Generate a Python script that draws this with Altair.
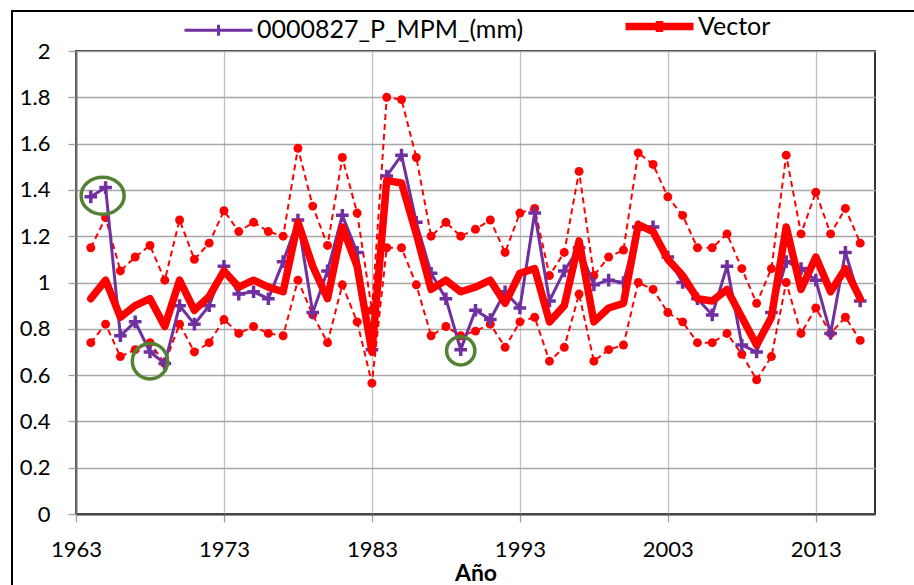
import altair as alt
import pandas as pd

# ---------------- data ----------------
years = list(range(1964, 2017))

p_mpm = [1.37, 1.41, 0.77, 0.83, 0.70, 0.65, 0.90, 0.82, 0.90, 1.07,
         0.95, 0.96, 0.93, 1.09, 1.27, 0.87, 1.05, 1.29, 1.13, 0.71,
         1.46, 1.55, 1.26, 1.04, 0.93, 0.71, 0.88, 0.84, 0.96, 0.89,
         1.30, 0.92, 1.05, 1.15, 0.99, 1.01, 1.00, 1.24, 1.24, 1.11,
         1.00, 0.93, 0.86, 1.07, 0.73, 0.70, 0.87, 1.09, 1.06, 1.01,
         0.78, 1.13, 0.92]

vector = [0.93, 1.01, 0.85, 0.90, 0.93, 0.81, 1.01, 0.88, 0.94, 1.05,
          0.98, 1.01, 0.98, 0.96, 1.26, 1.07, 0.93, 1.24, 1.07, 0.70,
          1.44, 1.43, 1.21, 0.97, 1.01, 0.96, 0.98, 1.01, 0.91, 1.04,
          1.06, 0.83, 0.90, 1.18, 0.83, 0.89, 0.91, 1.25, 1.22, 1.10,
          1.03, 0.93, 0.92, 0.97, 0.85, 0.73, 0.85, 1.24, 0.97, 1.11,
          0.96, 1.06, 0.93]

upper = [1.15, 1.28, 1.05, 1.11, 1.16, 1.01, 1.27, 1.10, 1.17, 1.31,
         1.22, 1.26, 1.22, 1.20, 1.58, 1.33, 1.16, 1.54, 1.30, 0.88,
         1.80, 1.79, 1.54, 1.20, 1.26, 1.20, 1.23, 1.27, 1.13, 1.30,
         1.32, 1.03, 1.13, 1.48, 1.03, 1.11, 1.14, 1.56, 1.51, 1.37,
         1.29, 1.15, 1.15, 1.21, 1.06, 0.91, 1.06, 1.55, 1.21, 1.39,
         1.21, 1.32, 1.17]

lower = [0.74, 0.82, 0.68, 0.71, 0.74, 0.65, 0.82, 0.70, 0.74, 0.84,
         0.78, 0.81, 0.78, 0.77, 1.01, 0.86, 0.74, 0.99, 0.83, 0.565,
         1.15, 1.15, 0.99, 0.77, 0.81, 0.77, 0.79, 0.82, 0.72, 0.83,
         0.85, 0.66, 0.72, 0.95, 0.66, 0.71, 0.73, 1.00, 0.97, 0.87,
         0.83, 0.74, 0.74, 0.78, 0.69, 0.58, 0.68, 1.00, 0.78, 0.89,
         0.78, 0.85, 0.75]

series_names = ["0000827_P_MPM_(mm)", "Vector"]
series_colors = ["#7030A0", "#FF0000"]

x_ticks = [1963, 1973, 1983, 1993, 2003, 2013]
y_ticks = [0, 0.2, 0.4, 0.6, 0.8, 1.0, 1.2, 1.4, 1.6, 1.8, 2.0]

# highlighted points (green rings)
ring_years = [1964.8, 1968.0, 1989.0]
ring_values = [1.375, 0.66, 0.705]

# ---------------- tables ----------------
n = len(years)
main = pd.DataFrame({
    "year": years * 2,
    "value": p_mpm + vector,
    "series": [series_names[0]] * n + [series_names[1]] * n,
})
purple = main[main["series"] == series_names[0]]
red = main[main["series"] == series_names[1]]
bounds = pd.DataFrame({
    "year": years * 2,
    "value": upper + lower,
    "bound": ["upper"] * n + ["lower"] * n,
})
rings = pd.DataFrame({"year": ring_years, "value": ring_values})

FONT = "Lato"

x_enc = alt.X("year:Q",
              scale=alt.Scale(domain=[1963, 2017], nice=False, zero=False),
              axis=alt.Axis(values=x_ticks, format="d", title="Año",
                            grid=True, gridColor="#c0c0c0", gridWidth=1.3,
                            domainColor="#444444", domainWidth=2,
                            tickColor="#a0a0a0", tickSize=8, tickWidth=1.3,
                            labelPadding=17, labelFontSize=22, labelColor="black",
                            labelFont=FONT, titleFont=FONT, titleFontSize=23,
                            titleFontWeight="bold", titleColor="black",
                            titlePadding=2, labelFlush=False))
y_enc = alt.Y("value:Q",
              scale=alt.Scale(domain=[0, 2], nice=False, zero=True),
              axis=alt.Axis(values=y_ticks, format=".1~f", title=None,
                            grid=True, gridColor="#a6a6a6", gridWidth=1.5,
                            domainColor="#6e6e6e", domainWidth=2,
                            tickColor="#a0a0a0", tickSize=8, tickWidth=1.3,
                            labelPadding=18, labelFontSize=22, labelColor="black",
                            labelFont=FONT))

color_enc = alt.Color(
    "series:N",
    scale=alt.Scale(domain=series_names, range=series_colors),
    legend=alt.Legend(
        title=None, orient="none", legendX=130, legendY=-37,
        direction="horizontal", columnPadding=86,
        symbolType="M-1,0H1M0,-0.16V0.16", symbolSize=4624,
        symbolStrokeWidth={"expr": "datum.value === 'Vector' ? 7.5 : 3"},
        labelFont=FONT, labelFontSize=25, labelColor="black", labelOffset=26,
        labelLimit=500,
    ),
)

frame = alt.Chart(pd.DataFrame({"k": [0]})).mark_rect(
    fillOpacity=0, stroke="black", strokeWidth=2
).encode(x=alt.value(-64), x2=alt.value(900), y=alt.value(-40), y2=alt.value(600))

bound_lines = alt.Chart(bounds).mark_line(
    color="#FF0000", strokeWidth=2, strokeDash=[6, 4]
).encode(x=x_enc, y=y_enc, detail="bound:N")

bound_dots = alt.Chart(bounds).mark_circle(
    color="#FF0000", size=80, opacity=1
).encode(x=x_enc, y=y_enc)

purple_line = alt.Chart(purple).mark_line(strokeWidth=3).encode(
    x=x_enc, y=y_enc, color=color_enc)

purple_marks = alt.Chart(purple).mark_point(
    shape="M-1,0H1M0,-1V1", size=160, strokeWidth=3.5, filled=False,
    color="#7030A0", opacity=1
).encode(x=x_enc, y=y_enc)

red_line = alt.Chart(red).mark_line(
    strokeWidth=7.5, strokeJoin="round", strokeCap="round"
).encode(x=x_enc, y=y_enc, color=color_enc)

ring1 = alt.Chart(rings.iloc[[0]]).mark_point(
    shape="M-1,0A1,0.86 0 1,0 1,0A1,0.86 0 1,0 -1,0",
    size=1850, strokeWidth=3.5, filled=False, color="#548235", opacity=1
).encode(x=x_enc, y=y_enc)
ring2 = alt.Chart(rings.iloc[[1]]).mark_point(
    shape="circle", size=1250, strokeWidth=3.5, filled=False,
    color="#548235", opacity=1
).encode(x=x_enc, y=y_enc)
ring3 = alt.Chart(rings.iloc[[2]]).mark_point(
    shape="circle", size=800, strokeWidth=3.5, filled=False,
    color="#548235", opacity=1
).encode(x=x_enc, y=y_enc)

chart = alt.layer(
    frame, bound_lines, bound_dots, purple_line, purple_marks, red_line,
    ring1, ring2, ring3
).properties(
    width=799, height=463,
    autosize=alt.AutoSizeParams(type="none"),
    padding={"left": 76, "top": 51, "right": 39, "bottom": 71},
    background="white",
).configure_view(
    stroke="#333333", strokeWidth=2
).configure_axis(
    labelFont=FONT
)

chart.save("out.html", embed_options={"renderer": "svg", "actions": False})
